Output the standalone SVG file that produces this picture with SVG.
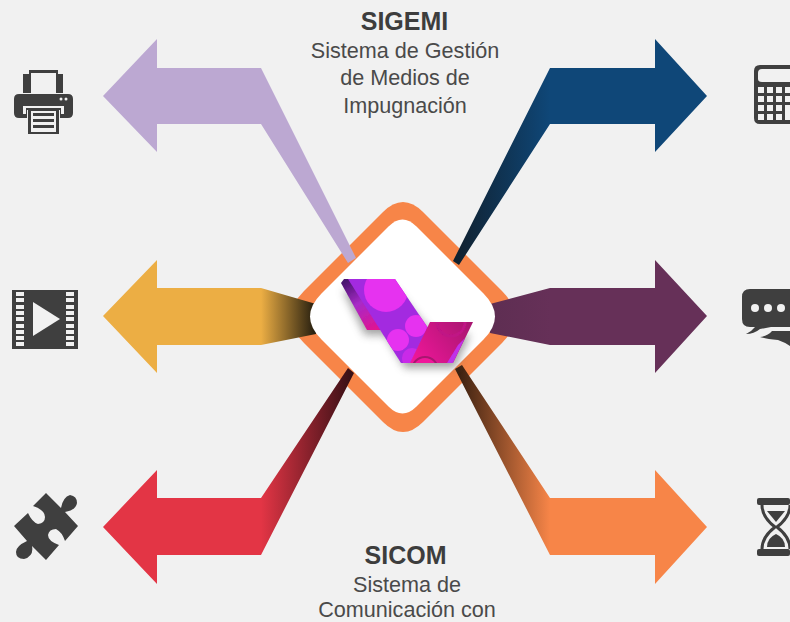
<svg xmlns="http://www.w3.org/2000/svg" width="790" height="622" viewBox="0 0 790 622">
<style>
text{font-family:"Liberation Sans",Arial,sans-serif;text-anchor:middle;fill:#4a4a4a;font-size:21.6px}
text.t{font-weight:bold;font-size:25px;fill:#3d3d3d}
.i{fill:#3f3f3f}
.h{fill:#f1f1f1}
</style>
<defs>
<linearGradient id="gY" gradientUnits="userSpaceOnUse" x1="261" y1="0" x2="314" y2="0"><stop offset="0" stop-color="#ecae44"/><stop offset="1" stop-color="#2a2110"/></linearGradient>
<linearGradient id="gB" gradientUnits="userSpaceOnUse" x1="550" y1="0" x2="455" y2="0"><stop offset="0" stop-color="#0f4778"/><stop offset="1" stop-color="#10202e"/></linearGradient>
<linearGradient id="gP" gradientUnits="userSpaceOnUse" x1="550" y1="0" x2="491" y2="0"><stop offset="0" stop-color="#663058"/><stop offset="1" stop-color="#5e2e52"/></linearGradient>
<linearGradient id="gR" gradientUnits="userSpaceOnUse" x1="261" y1="0" x2="350" y2="0"><stop offset="0" stop-color="#e33545"/><stop offset="1" stop-color="#3a1016"/></linearGradient>
<linearGradient id="gO" gradientUnits="userSpaceOnUse" x1="550" y1="0" x2="458" y2="0"><stop offset="0" stop-color="#f78548"/><stop offset="1" stop-color="#3a2010"/></linearGradient>
<linearGradient id="gK" gradientUnits="userSpaceOnUse" x1="415" y1="363" x2="470" y2="322"><stop offset="0" stop-color="#f0149a"/><stop offset="1" stop-color="#a81470"/></linearGradient>
<linearGradient id="gF" gradientUnits="userSpaceOnUse" x1="345" y1="282" x2="375" y2="330"><stop offset="0" stop-color="#4a1470"/><stop offset=".45" stop-color="#a82ac8"/><stop offset="1" stop-color="#e01490"/></linearGradient>
<filter id="sh" x="-30%" y="-30%" width="160%" height="160%"><feGaussianBlur stdDeviation="4"/></filter>
<filter id="sf" x="-5%" y="-5%" width="110%" height="110%"><feGaussianBlur stdDeviation="0.5"/></filter>
<clipPath id="cM"><polygon points="348,279 395,279 428,328 410,363 401,363"/></clipPath>
<clipPath id="cR"><polygon points="430,322 473,322 453,363 410,363"/></clipPath>
</defs>
<rect width="790" height="622" fill="#f1f1f1"/>
<g id="diamond-outer"><path fill="#f78548" d="M383 212Q403 192 423 212L502 291Q528 317 502 343L423 422Q403 442 383 422L304 343Q278 317 304 291Z"/></g>
<g id="connectors">
<polygon id="arrow-lilac" fill="#bca8d2" points="103,96 157,39 157,68 261,68 356,258 348,263 261,124 157,124 157,152"/>
<polygon id="arrow-blue" fill="url(#gB)" points="707,96 655,39 655,68 550,68 453,261 459,265 550,124 655,124 655,152"/>
<polygon id="arrow-yellow" fill="url(#gY)" points="103,316 157,260 157,288 261,288 316,304 316,334 261,345 157,345 157,373"/>
<polygon id="arrow-purple" fill="url(#gP)" points="707,316 655,260 655,288 550,288 490,304 490,333 550,345 655,345 655,373"/>
<polygon id="arrow-red" fill="url(#gR)" points="103,527 157,470 157,498 261,498 348,368 354,373 261,555 157,555 157,584"/>
<polygon id="arrow-orange" fill="url(#gO)" points="707,527 655,470 655,498 550,498 462,365 455,369 550,555 655,555 655,584"/>
</g>
<g id="logo-node">
<path fill="#fff" d="M388.500 226.500Q402.500 212.500 416.500 226.500L483.500 293.500Q506.500 316.500 483.500 339.500L416.500 406.500Q402.500 420.500 388.500 406.500L321.500 339.500Q298.500 316.500 321.500 293.500Z"/>
<polygon points="343,290 365,335 385,335 405,368 455,368 470,335 430,330 395,290" fill="#555" opacity=".55" filter="url(#sh)"/>
<g filter="url(#sf)">
<polygon points="341,283 344,279 350,279 385,330 367,330" fill="url(#gF)"/>
<polygon points="348,279 395,279 428,328 410,363 401,363" fill="#a32ae0"/>
<g clip-path="url(#cM)">
<circle cx="386" cy="290" r="22" fill="#e630f0"/>
<circle cx="416" cy="326" r="11" fill="#e630f0"/>
<circle cx="398" cy="340" r="11" fill="#e630f0"/>
<circle cx="412" cy="358" r="11" fill="#c92ce8" stroke="#a32ae0" stroke-width="2"/>
</g>
<polygon points="430,322 473,322 453,363 410,363" fill="url(#gK)"/>
<g clip-path="url(#cR)">
<circle cx="451" cy="322" r="14" fill="none" stroke="#c01285" stroke-width="3"/>
<circle cx="425" cy="370" r="13" fill="#f0149a" stroke="#a81470" stroke-width="2"/>
<polygon points="447,363 453,363 465,338 458,345" fill="#c030e8"/>
</g>
</g>
</g>
<g id="sigemi"><text class="t" x="404.500" y="30">SIGEMI</text><text x="405" y="58">Sistema de Gestión</text><text x="405" y="85">de Medios de</text><text x="405" y="113">Impugnación</text></g>
<g id="sicom"><text class="t" x="405.500" y="564">SICOM</text><text x="407" y="592">Sistema de</text><text x="407" y="617.300">Comunicación con</text></g>
<g id="icon-printer">
<path class="i" fill-rule="evenodd" d="M29 70H58V74H63V93H56V73H31V93H23V74H29Z"/>
<path class="i" fill-rule="evenodd" d="M19 94H68Q73 94 73 99V113Q73 118 68 118H60V110H27V118H19Q14 118 14 113V99Q14 94 19 94ZM23 106V114H26V108H61V114H64V106Z"/>
<rect class="i" x="28" y="109" width="31" height="25"/><rect class="h" x="31" y="111" width="25" height="21"/>
<path class="i" d="M33 113H54V116H33ZM33 119H54V122H33ZM33 125H54V128H33Z"/>
<circle class="h" cx="61" cy="99" r="1.500"/><circle class="h" cx="66" cy="99" r="1.500"/>
</g>
<g id="icon-film">
<rect class="i" x="12" y="290" width="66" height="59"/>
<path class="h" d="M16 292h8v4h-8zM16 298h8v4h-8zM16 305h8v4h-8zM16 311h8v4h-8zM16 317h8v4h-8zM16 324h8v4h-8zM16 330h8v4h-8zM16 336h8v4h-8zM16 342h8v4h-8zM66 292h8v4h-8zM66 298h8v4h-8zM66 305h8v4h-8zM66 311h8v4h-8zM66 317h8v4h-8zM66 324h8v4h-8zM66 330h8v4h-8zM66 336h8v4h-8zM66 342h8v4h-8z"/>
<polygon class="h" points="33,302 60,319 33,336"/>
</g>
<g id="icon-puzzle">
<path class="i" d="M46 493L61 508Q63 497 70 495Q77 496 77 503Q76 510 65 512L78 526L65 541Q62 532 56 529Q49 529 48 535Q48 541 59 545L46 560L32 546Q34 556 24 559Q16 559 16 552Q16 546 27 541L14 526L28 513Q32 522 38 524Q45 523 45 517Q45 510 33 506Z"/>
</g>
<g id="icon-calculator">
<path class="i" fill-rule="evenodd" d="M760 65H790V124H760Q754 124 754 118V71Q754 65 760 65ZM762 69Q758 69 758 73V79Q758 82 762 82H790V69Z"/>
<path class="h" d="M758 87h6v6h-6zM767 87h6v6h-6zM776 87h6v6h-6zM785 87h5v6h-5zM758 96h6v6h-6zM767 96h6v6h-6zM776 96h6v6h-6zM785 96h5v6h-5zM758 105h6v6h-6zM767 105h6v6h-6zM776 105h6v6h-6zM785 105h5v15h-5zM758 114h6v6h-6zM767 114h6v6h-6zM776 114h6v6h-6z"/>
</g>
<g id="icon-chat">
<path class="i" d="M750 289H790V327H771L760 329Q754 334 746 334Q752 331 755 327H750Q742 327 742 319V297Q742 289 750 289Z"/>
<path class="i" d="M772 331H790V346Q784 342 778 340Q766 339 760 337Q768 336 772 331Z"/>
<circle class="h" cx="755" cy="308" r="4"/><circle class="h" cx="768" cy="308" r="4"/><circle class="h" cx="781" cy="308" r="4"/>
</g>
<g id="icon-hourglass">
<rect class="i" x="757" y="498" width="33" height="7" rx="2"/><rect class="i" x="757" y="549" width="33" height="7" rx="2"/>
<path d="M762 505Q762 517 775 527Q762 537 762 549M790 505Q790 517 777 527Q790 537 790 549" fill="none" stroke="#3f3f3f" stroke-width="3"/>
<polygon class="i" points="767,511 785,511 776,522"/>
<path class="i" d="M767 547Q767 538 776 534Q785 538 785 547Z"/>
</g>
</svg>
